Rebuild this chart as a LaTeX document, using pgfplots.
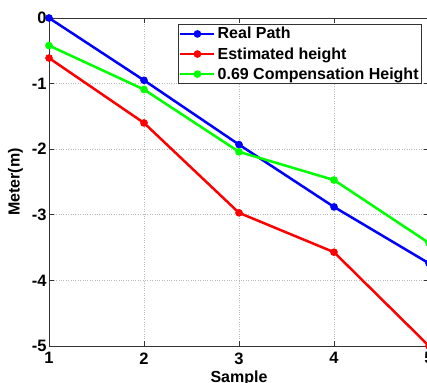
\documentclass[border=0pt]{standalone}
\usepackage{fontspec}
\setmainfont{Liberation Sans}
\usepackage{pgfplots}
\pgfplotsset{compat=1.18}
\begin{document}
\begin{tikzpicture}[x=1pt,y=1pt]
\begin{axis}[
  scale only axis,
  width=380pt, height=328pt,
  xmin=1, xmax=5, ymin=-5, ymax=0,
  xtick={1,2,3,4,5}, ytick={-5,-4,-3,-2,-1,0},
  tick align=inside,
  major tick length=5pt,
  grid=major,
  major grid style={dotted, gray!55, line width=0.9pt},
  axis line style={black!80, line width=0.9pt},
  tick style={black!80, line width=0.8pt},
  /pgf/number format/assume math mode=true,
  ticklabel style={font=\fontsize{16.5}{19}\selectfont\bfseries},
  xticklabel style={yshift=-3pt},
  yticklabel style={xshift=1pt},
  xlabel={\bfseries Sample},
  ylabel={\bfseries Meter(m)},
  label style={font=\fontsize{16}{19}\selectfont},
  xlabel style={yshift=0pt},
  ylabel style={yshift=2pt},
  legend style={at={(rel axis cs:1,1)}, anchor=north east, xshift=-7pt, yshift=-6pt,
    font=\fontsize{16}{19}\selectfont\bfseries, draw=black!80, line width=0.8pt,
    inner sep=1pt, row sep=3pt, cells={anchor=west}},
  legend image code/.code={\draw[#1, line width=2.5pt] (0pt,0pt) -- (34pt,0pt); \fill[#1] (17pt,0pt) circle (2.5pt);},
  clip=false,
]
\addplot[blue, line width=2.5pt, mark=*, mark size=2.5pt] coordinates {(1,0) (2,-0.95) (3,-1.93) (4,-2.88) (5,-3.74)};
\addlegendentry{Real Path}
\addplot[red, line width=2.5pt, mark=*, mark size=2.5pt] coordinates {(1,-0.61) (2,-1.6) (3,-2.97) (4,-3.57) (5,-5.0)};
\addlegendentry{Estimated height}
\addplot[green, line width=2.5pt, mark=*, mark size=2.5pt] coordinates {(1,-0.42) (2,-1.09) (3,-2.04) (4,-2.47) (5,-3.43)};
\addlegendentry{0.69 Compensation Height}
\end{axis}
\pgfresetboundingbox
\path[use as bounding box] ([xshift=-49pt,yshift=-37pt]current axis.south west) rectangle ([xshift=-2pt,yshift=18pt]current axis.north east);
\end{tikzpicture}
\end{document}
